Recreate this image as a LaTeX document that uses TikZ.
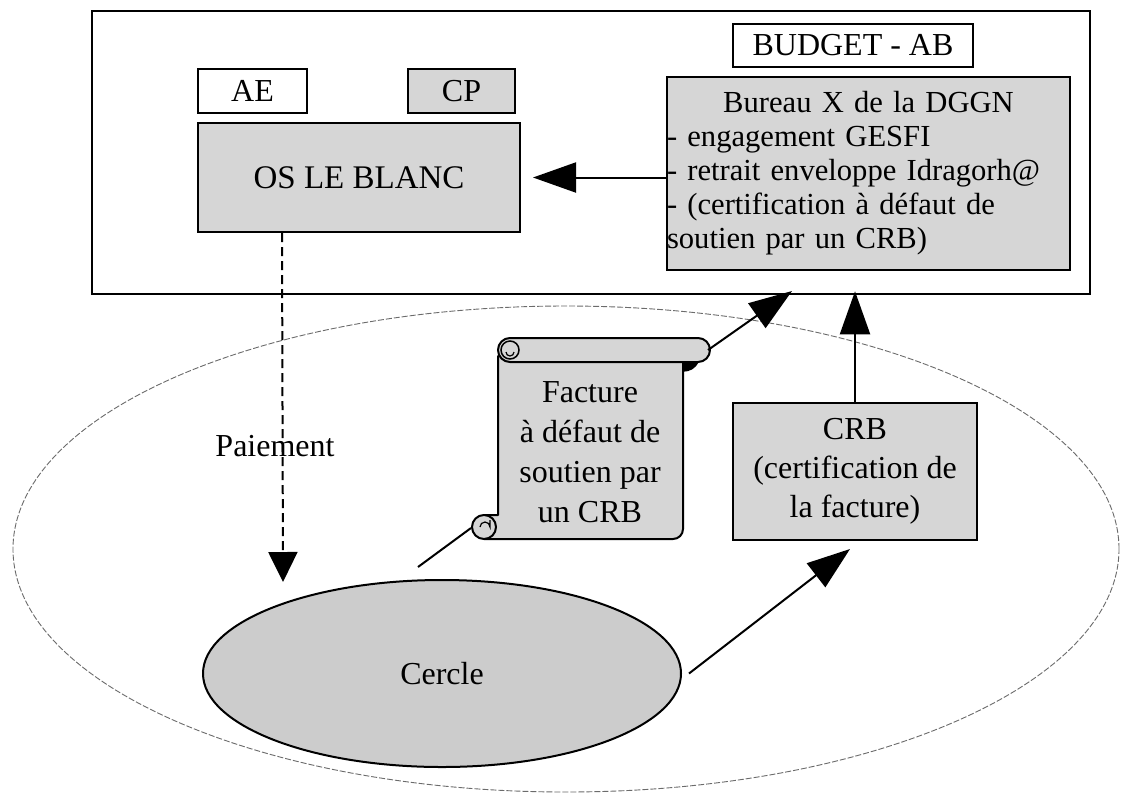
\documentclass[tikz,border=0pt]{standalone}
\usepackage{fontspec}
\setmainfont{Liberation Serif}
\usetikzlibrary{arrows.meta,shapes.geometric}
\definecolor{stipple}{gray}{0.84}
\definecolor{stippledark}{gray}{0.80}
\definecolor{rim}{gray}{0.42}
\begin{document}
\begin{tikzpicture}[x=1pt,y=-1pt,
  box/.style={draw,rectangle,line width=2pt,inner sep=0pt,
              font=\fontsize{32}{39}\selectfont,align=center},
  shaded/.style={box,fill=stipple},
  link/.style={line width=2pt},
  bigtip/.style={-{Triangle[length=43pt,width=30pt]}},
  smalltip/.style={-{Triangle[length=30pt,width=29pt]}},
  scrollline/.style={draw,line width=2pt,fill=stipple,line join=round}]
\useasboundingbox (0,0) rectangle (1121,796);
\fill[white] (0,0) rectangle (1121,796);

% large zone around the lower part
\node[ellipse,draw=rim,line width=0.9pt,dash pattern=on 6pt off 2pt,
      minimum width=1106pt,minimum height=486pt,inner sep=0pt] (zone) at (566,549) {};

% upper frame: budget side
\node[box,line width=2.5pt,minimum width=998pt,minimum height=283pt] (frame) at (591,152.5) {};
\node[box,minimum width=240pt,minimum height=43pt] (budget) at (853,45.5) {BUDGET - AB};
\node[shaded,minimum width=403pt,minimum height=193pt,text width=403pt,align=left,
      font=\fontsize{30.6}{34}\selectfont] (bureau) at (868.5,173.5)
  {\hfill Bureau X de la DGGN\hfill\null\\
   - engagement GESFI\\
   - retrait enveloppe Idragorh@\\
   - (certification à défaut de\\
   soutien par un CRB)};
\node[box,minimum width=109pt,minimum height=44pt] (ae) at (252.5,91) {AE};
\node[shaded,minimum width=107pt,minimum height=44pt] (cp) at (461.5,91) {CP};
\node[shaded,minimum width=322pt,minimum height=109pt,font=\fontsize{33}{39}\selectfont] (os) at (359,177.5) {OS LE BLANC};

% lower part
\node[shaded,minimum width=244pt,minimum height=137pt] (crb) at (855,471.5)
  {CRB\\(certification de\\la facture)};
\node[ellipse,draw,line width=2pt,fill=stippledark,inner sep=0pt,
      minimum width=478pt,minimum height=187pt,font=\fontsize{32}{39}\selectfont] (cercle) at (442,673.5) {Cercle};

% invoice scroll
\filldraw[scrollline] (498,356) -- (683,356) {[rounded corners=10pt] -- (683,539)} -- (484,539) -- (484,515) -- (498,515) -- cycle;
\filldraw[scrollline,rounded corners=12pt] (498,338) rectangle (710,362);
\draw[line width=1.5pt] (510,350) circle (9);
\draw[line width=1.2pt] (506,352) arc[start angle=180,end angle=0,radius=4];
\filldraw[line width=1.5pt,fill=black] (683,362) -- (698,362) to[bend left=30] (683,371) -- cycle;
\filldraw[scrollline] (484,527) circle (12);
\draw[line width=1.2pt] (480,527) arc[start angle=180,end angle=360,radius=5] -- (490,520);
\node[font=\fontsize{32}{40}\selectfont,align=center,inner sep=0pt] (facture) at (590,452)
  {Facture\\à défaut de\\soutien par\\un CRB};
\coordinate (rollend) at (708,350);
\coordinate (curl) at (471,528);

% connector end points
\coordinate (budgettip) at (792,291);
\coordinate (paytip) at (283,582);
\coordinate (crbtip) at (850,549);
\coordinate (cerclerim) at (418,567);

% connectors
\draw[link,bigtip] (bureau.west |- os.east) -- ([xshift=12pt]os.east);
\draw[link,smalltip,dash pattern=on 9pt off 5pt] ([xshift=85pt]os.south west) -- (paytip);
\node[font=\fontsize{32}{39}\selectfont,inner sep=0pt] (paiement) at (275,446) {Paiement};
\draw[link,bigtip] (rollend) -- (budgettip);
\draw[link,bigtip] (crb.north) -- ([yshift=4pt]crb.north |- frame.south);
\draw[link,bigtip] ([xshift=7pt]cercle.east) -- (crbtip);
\draw[link] (cerclerim) -- (curl);
\end{tikzpicture}
\end{document}
